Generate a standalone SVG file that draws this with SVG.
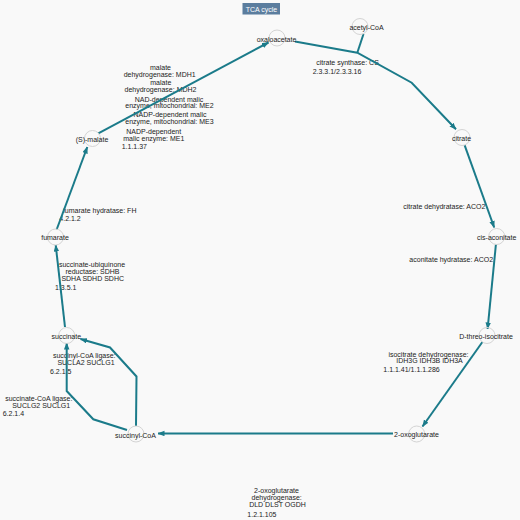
<svg xmlns="http://www.w3.org/2000/svg" width="520" height="520" viewBox="0 0 520 520">
<style>
text{font-family:"Liberation Sans",Arial,sans-serif;font-size:7px;fill:#222}
.m{text-anchor:middle}
.s{text-anchor:start}
.node circle{fill:none;stroke:#d4d4d4;stroke-width:1}
.edge{fill:none;stroke:#1b7b8a;stroke-width:2;stroke-linejoin:miter}
.arr{marker-end:url(#ah)}
.title rect{fill:#5b7d9e}
.title text{fill:#fff}
</style>
<defs>
<marker id="ah" markerUnits="userSpaceOnUse" markerWidth="7" markerHeight="6" refX="6.5" refY="2.75" orient="auto">
<path d="M0,0 L7,2.75 L0,5.5 z" fill="#1b7b8a"/>
</marker>
</defs>
<rect width="520" height="520" fill="#f9f9f9"/>
<g id="title" class="title">
<rect x="242.5" y="3" width="37.5" height="11.5"/>
<text class="m" x="261.5" y="11.5">TCA cycle</text>
</g>
<g id="edge-labels">
<text class="m" x="347.5" y="65.2">citrate synthase: CS</text>
<text class="s" x="312.7" y="73.8">2.3.3.1/2.3.3.16</text>
<text class="m" x="444.3" y="209.2">citrate dehydratase: ACO2</text>
<text class="m" x="451.2" y="261.5">aconitate hydratase: ACO2</text>
<text class="m" x="428.5" y="356.5">isocitrate dehydrogenase:</text>
<text class="m" x="429.5" y="363.2">IDH3G IDH3B IDH3A</text>
<text class="s" x="383.3" y="371.5">1.1.1.41/1.1.1.286</text>
<text class="m" x="276.5" y="493.2">2-oxoglutarate</text>
<text class="m" x="276.7" y="499.8">dehydrogenase:</text>
<text class="m" x="277.5" y="506.8">DLD DLST OGDH</text>
<text class="s" x="247.3" y="516.5">1.2.1.105</text>
<text class="m" x="84.2" y="357.5">succinyl-CoA ligase:</text>
<text class="m" x="86" y="364.8">SUCLA2 SUCLG1</text>
<text class="s" x="50" y="373.5">6.2.1.5</text>
<text class="m" x="38.8" y="400.8">succinate-CoA ligase:</text>
<text class="m" x="41.2" y="407.8">SUCLG2 SUCLG1</text>
<text class="s" x="2.7" y="415.8">6.2.1.4</text>
<text class="m" x="92" y="266.8">succinate-ubiquinone</text>
<text class="m" x="92.5" y="273.5">reductase: SDHB</text>
<text class="m" x="92.7" y="280.8">SDHA SDHD SDHC</text>
<text class="s" x="55" y="290.2">1.3.5.1</text>
<text class="m" x="99.7" y="213.2">fumarate hydratase: FH</text>
<text class="s" x="59.3" y="220.8">4.2.1.2</text>
<text class="m" x="160.5" y="69.8">malate</text>
<text class="m" x="159.7" y="76.5">dehydrogenase: MDH1</text>
<text class="m" x="160.8" y="85.2">malate</text>
<text class="m" x="160.5" y="91.8">dehydrogenase: MDH2</text>
<text class="m" x="169" y="101.5">NAD-dependent malic</text>
<text class="m" x="169.5" y="108.2">enzyme, mitochondrial: ME2</text>
<text class="m" x="170" y="116.8">NADP-dependent malic</text>
<text class="m" x="169.5" y="124.2">enzyme, mitochondrial: ME3</text>
<text class="m" x="153.7" y="133.5">NADP-dependent</text>
<text class="m" x="153.8" y="140.8">malic enzyme: ME1</text>
<text class="s" x="121.7" y="149.2">1.1.1.37</text>
</g>
<g id="connectors">
<path class="edge" d="M363.5,34 L357.3,52.7"/>
<path class="edge arr" d="M295,41.5 L357.3,52.7 L411.7,82.7 L456,129.3"/>
<path class="edge arr" d="M464.6,145.1 L494.2,227.5"/>
<path class="edge arr" d="M495.9,244.5 L487.6,329"/>
<path class="edge arr" d="M482.4,342 L422.5,426.5"/>
<path class="edge arr" d="M393,433.5 L158,433.5"/>
<path class="edge arr" d="M136,426 L136.5,376.5 L110,347.5 L80.5,339"/>
<path class="edge arr" d="M127,430 L93.3,419.3 L66.7,391 L66.7,343"/>
<path class="edge arr" d="M65,327 L55.7,245"/>
<path class="edge arr" d="M56.7,229.5 L87.3,147"/>
<path class="edge arr" d="M98.3,133.3 L268.5,42.5"/>
</g>
<g id="node-oxaloacetate" class="node"><circle cx="277" cy="38" r="8"/><text class="m" x="276.5" y="42">oxaloacetate</text></g>
<g id="node-acetyl-CoA" class="node"><circle cx="360" cy="26.5" r="8"/><text class="m" x="366.5" y="30">acetyl-CoA</text></g>
<g id="node-citrate" class="node"><circle cx="462" cy="137.5" r="8"/><text class="m" x="461.5" y="141">citrate</text></g>
<g id="node-cis-aconitate" class="node"><circle cx="496.7" cy="236.5" r="8"/><text class="m" x="496.7" y="239.8">cis-aconitate</text></g>
<g id="node-D-threo-isocitrate" class="node"><circle cx="487" cy="335.5" r="8"/><text class="m" x="486" y="338.8">D-threo-isocitrate</text></g>
<g id="node-2-oxoglutarate" class="node"><circle cx="416.7" cy="434" r="8"/><text class="m" x="416.5" y="437.2">2-oxoglutarate</text></g>
<g id="node-succinyl-CoA" class="node"><circle cx="136" cy="434" r="8"/><text class="m" x="135.5" y="437.5">succinyl-CoA</text></g>
<g id="node-succinate" class="node"><circle cx="66.7" cy="335.5" r="8"/><text class="m" x="66.3" y="338.5">succinate</text></g>
<g id="node-fumarate" class="node"><circle cx="55.5" cy="237" r="8"/><text class="m" x="55" y="240.2">fumarate</text></g>
<g id="node-S-malate" class="node"><circle cx="92.5" cy="138.5" r="8"/><text class="m" x="92" y="141.5">(S)-malate</text></g>
</svg>
